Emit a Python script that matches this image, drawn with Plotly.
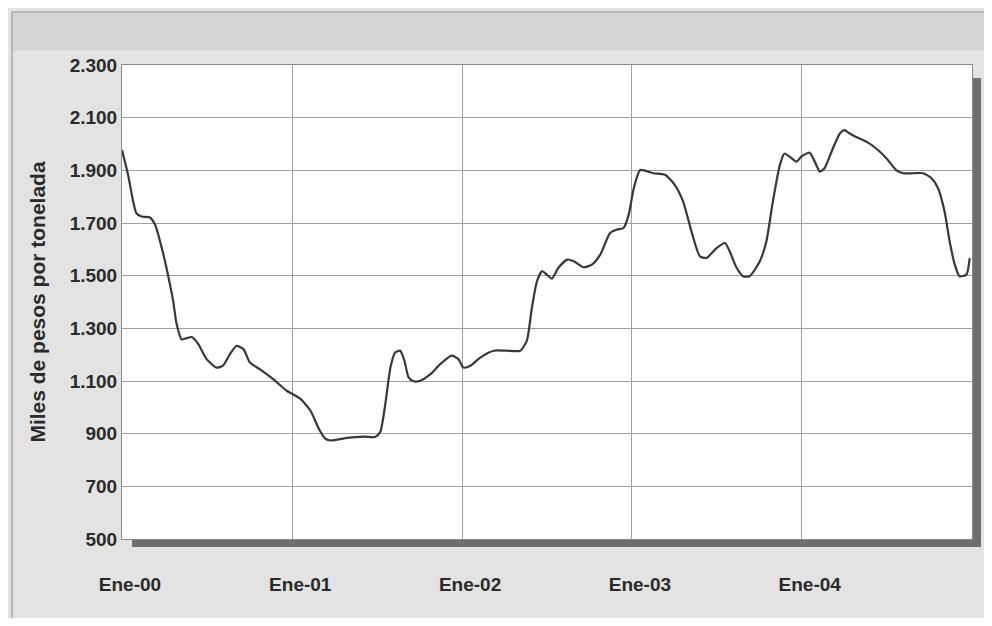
import plotly.graph_objects as go

dates = [
    "2000-01-01", "2000-01-14", "2000-01-25", "2000-02-01", "2000-02-12", "2000-03-01",
    "2000-03-12", "2000-03-30", "2000-04-13", "2000-04-20", "2000-04-27", "2000-05-08",
    "2000-05-19", "2000-05-30", "2000-06-13", "2000-07-01", "2000-07-22", "2000-08-05",
    "2000-08-20", "2000-09-03", "2000-09-18", "2000-10-02", "2000-10-23", "2000-11-21",
    "2000-12-20", "2001-01-01", "2001-01-18", "2001-02-09", "2001-02-27", "2001-03-13",
    "2001-03-24", "2001-04-29", "2001-06-03", "2001-06-28", "2001-07-09", "2001-07-20",
    "2001-07-31", "2001-08-10", "2001-08-21", "2001-08-30", "2001-09-08", "2001-09-19",
    "2001-10-03", "2001-10-25", "2001-11-15", "2001-12-10", "2001-12-24", "2002-01-04",
    "2002-01-19", "2002-02-09", "2002-03-10", "2002-04-07", "2002-05-06", "2002-05-20",
    "2002-05-31", "2002-06-11", "2002-06-22", "2002-07-02", "2002-07-13", "2002-07-27",
    "2002-08-15", "2002-08-29", "2002-09-19", "2002-10-07", "2002-10-25", "2002-11-15",
    "2002-11-30", "2002-12-14", "2002-12-25", "2003-01-05", "2003-01-19", "2003-02-16",
    "2003-03-13", "2003-04-03", "2003-04-21", "2003-05-09", "2003-05-27", "2003-06-10",
    "2003-07-02", "2003-07-20", "2003-07-30", "2003-08-14", "2003-08-28", "2003-09-11",
    "2003-10-03", "2003-10-17", "2003-10-31", "2003-11-15", "2003-11-25", "2003-12-06",
    "2003-12-21", "2003-12-31", "2004-01-18", "2004-01-29", "2004-02-09", "2004-02-19",
    "2004-03-08", "2004-03-23", "2004-04-02", "2004-04-13", "2004-04-27", "2004-05-19",
    "2004-06-09", "2004-07-01", "2004-07-22", "2004-08-06", "2004-08-27", "2004-09-18",
    "2004-10-06", "2004-10-20", "2004-11-03", "2004-11-14", "2004-11-25", "2004-12-05",
    "2004-12-20", "2004-12-27",
]
precio = [
    1977, 1883, 1782, 1737, 1725, 1721,
    1694, 1580, 1467, 1404, 1320, 1258,
    1263, 1267, 1240, 1183, 1151, 1158,
    1202, 1233, 1221, 1170, 1145, 1107,
    1063, 1051, 1033, 988, 919, 881,
    874, 884, 889, 887, 906, 1013,
    1151, 1208, 1215, 1177, 1114, 1099,
    1101, 1126, 1164, 1196, 1183, 1151,
    1158, 1189, 1215, 1215, 1215, 1252,
    1378, 1479, 1517, 1504, 1489, 1530,
    1561, 1555, 1532, 1542, 1580, 1662,
    1675, 1681, 1731, 1832, 1901, 1889,
    1883, 1845, 1782, 1668, 1574, 1567,
    1605, 1624, 1593, 1530, 1498, 1498,
    1555, 1630, 1782, 1920, 1964, 1952,
    1933, 1952, 1967, 1933, 1895, 1908,
    1983, 2040, 2053, 2040, 2027, 2009,
    1983, 1946, 1901, 1889, 1889, 1889,
    1870, 1832, 1744, 1630, 1542, 1498,
    1504, 1567,
]
tick_dates = ["2000-01-01", "2001-01-01", "2002-01-01", "2003-01-01", "2004-01-01"]
tick_labels = ["Ene-00", "Ene-01", "Ene-02", "Ene-03", "Ene-04"]
y_title = "Miles de pesos por tonelada"

FONT = "Liberation Sans, Arial, sans-serif"

fig = go.Figure()
fig.add_trace(go.Scatter(
    x=dates, y=precio, mode="lines",
    line=dict(color="#383838", width=2.2, shape="spline", smoothing=0.6),
    hoverinfo="x+y", showlegend=False,
))

shadow = "#6f6f6f"
shapes = [
    # outer frame
    dict(type="rect", xref="paper", yref="paper", x0=-0.1294, x1=1.03, y0=-0.173, y1=1.1118,
         line=dict(color="#8a8a8a", width=1), fillcolor="rgba(0,0,0,0)", layer="below"),
    # top darker band
    dict(type="rect", xref="paper", yref="paper", x0=-0.1282, x1=1.03, y0=1.03, y1=1.1097,
         line=dict(width=0), fillcolor="#d6d6d6", layer="below"),
    # bottom shadow
    dict(type="rect", xref="paper", yref="paper", x0=0.0118, x1=1.0106, y0=-0.0169, y1=0,
         line=dict(width=0), fillcolor=shadow, layer="below"),
    # right shadow
    dict(type="rect", xref="paper", yref="paper", x0=1.0, x1=1.0106, y0=-0.0169, y1=0.9726,
         line=dict(width=0), fillcolor=shadow, layer="below"),
]

fig.update_layout(
    width=984, height=610,
    margin=dict(l=114, r=20, t=57, b=79),
    paper_bgcolor="#e3e3e3",
    plot_bgcolor="#ffffff",
    separators=",.",
    font=dict(family=FONT, color="#2a2a2a", size=19),
    shapes=shapes,
)
fig.update_xaxes(
    type="date", range=["2000-01-01", "2005-01-01"],
    tickmode="array", tickvals=tick_dates, ticktext=tick_labels,
    tickfont=dict(family=FONT, size=19, color="#2a2a2a", weight="bold"),
    showgrid=True, gridcolor="#a0a0a0", gridwidth=1,
    showline=True, linecolor="#8a8a8a", linewidth=1, mirror=True,
    ticks="", ticklabelstandoff=28, ticklabelshift=8,
    zeroline=False,
)
fig.update_yaxes(
    range=[500, 2300], dtick=200, tick0=500, tickformat=",d",
    tickfont=dict(family=FONT, size=19, color="#2a2a2a", weight="bold"),
    showgrid=True, gridcolor="#a0a0a0", gridwidth=1,
    showline=True, linecolor="#8a8a8a", linewidth=1, mirror=True,
    ticks="", ticklabelstandoff=0,
    zeroline=False,
    title=dict(text=y_title, font=dict(family=FONT, size=21, color="#2a2a2a", weight="bold"),
               standoff=18),
)

fig.write_html("out.html")
